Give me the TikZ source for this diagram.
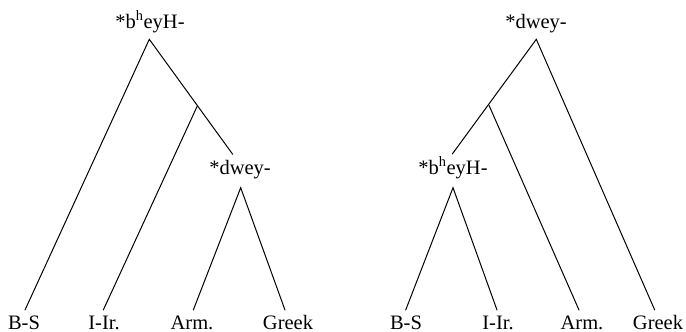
\documentclass[tikz,border=0pt]{standalone}
\usepackage{fontspec}
\setmainfont{Liberation Serif}
\begin{document}
\begin{tikzpicture}[x=1pt,y=-1pt,
  lbl/.style={anchor=base,inner sep=0pt,font=\fontsize{20.5}{24}\selectfont},
  edge/.style={line width=1pt,line cap=round}]
\useasboundingbox (0,0) rectangle (686,332);
% ---------- left tree ----------
\node[lbl] (lroot) at (150,28) {*b\textsuperscript{h}eyH-};
\coordinate (lapex) at (149.3,39.3);
\coordinate (ljun) at (197.3,106);
\coordinate (ldwin) at (232.7,154.3);
\node[lbl] (ldw) at (240,174) {*dwey-};
\coordinate (ldwapex) at (240.7,187.7);
\node[lbl] (lbs) at (24,329) {B-S};
\node[lbl] (lii) at (104,329) {I-Ir.};
\node[lbl] (larm) at (192,329) {Arm.};
\node[lbl] (lgr) at (288,329) {Greek};
\coordinate (lbsend) at (25,310);
\coordinate (liiend) at (103.3,310);
\coordinate (larmend) at (193.3,310);
\coordinate (lgrend) at (285,310);
\draw[edge] (lbsend) -- (lapex) -- (ldwin);
\draw[edge] (ljun) -- (liiend);
\draw[edge] (larmend) -- (ldwapex) -- (lgrend);
% ---------- right tree ----------
\node[lbl] (rroot) at (536,28) {*dwey-};
\coordinate (rapex) at (536.3,39.3);
\coordinate (rjun) at (489,105.3);
\coordinate (rbhin) at (452.3,154);
\node[lbl] (rbh) at (453,174) {*b\textsuperscript{h}eyH-};
\coordinate (rbhapex) at (453,187.7);
\node[lbl] (rbs) at (406,329) {B-S};
\node[lbl] (rii) at (498,329) {I-Ir.};
\node[lbl] (rarm) at (582,329) {Arm.};
\node[lbl] (rgr) at (658,329) {Greek};
\coordinate (rbsend) at (405.7,310);
\coordinate (riiend) at (497,310);
\coordinate (rarmend) at (579,310);
\coordinate (rgrend) at (654.7,310);
\draw[edge] (rbhin) -- (rapex) -- (rgrend);
\draw[edge] (rjun) -- (rarmend);
\draw[edge] (rbsend) -- (rbhapex) -- (riiend);
\end{tikzpicture}
\end{document}
